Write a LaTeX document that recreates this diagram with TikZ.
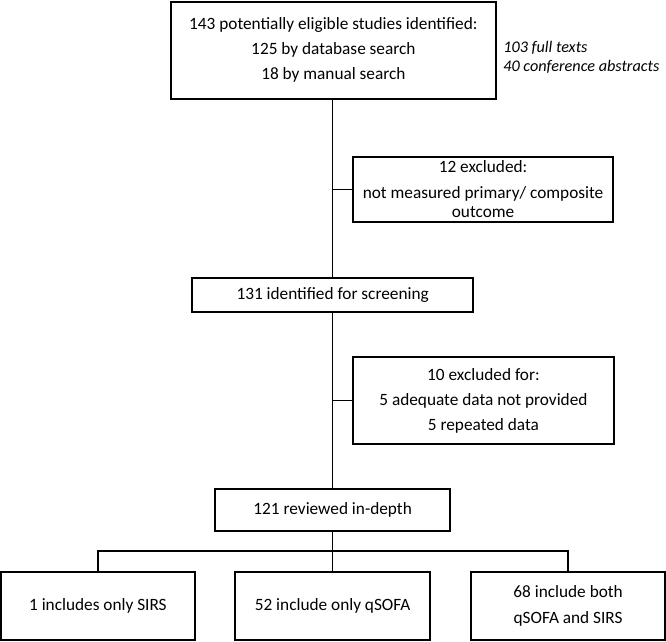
\documentclass[tikz,border=0pt]{standalone}
\usepackage{fontspec}
\setmainfont{Carlito}
\begin{document}
\begin{tikzpicture}[
    box/.style={draw, line width=1.2pt, inner sep=0pt, align=center, font=\fontsize{13}{15}\selectfont},
    link/.style={line width=1.2pt}
  ]
    \useasboundingbox (0,0) rectangle (17.62,-16.96);
    % main column
    \node[box, minimum width=8.6cm, minimum height=2.57cm] (found) at (8.82,-1.33) {143 potentially eligible studies identified:\\[3.75pt] 125 by database search\\[3.75pt] 18 by manual search};
    \node[anchor=west, inner sep=0pt, align=left, font=\fontsize{12.2}{14.3}\selectfont\itshape] (kind) at (13.31,-1.52) {103 full texts\\ 40 conference abstracts};
    \node[box, minimum width=7.43cm, minimum height=0.9cm] (screen) at (8.8,-7.81) {131 identified for screening};
    \node[box, minimum width=6.22cm, minimum height=1.11cm] (review) at (8.8,-13.49) {121 reviewed in-depth};
    % exclusions
    \node[box, minimum width=6.88cm, minimum height=1.72cm] (excl1) at (12.78,-5.01) {12 excluded:\\[4.5pt] not measured primary/ composite\\[-0.5pt] outcome};
    \node[box, minimum width=6.9cm, minimum height=2.3cm] (excl2) at (12.79,-10.6) {10 excluded for:\\[3.75pt] 5 adequate data not provided\\[3.75pt] 5 repeated data};
    % results
    \node[box, minimum width=5.13cm, minimum height=1.8cm] (sirs) at (2.59,-16.03) {1 includes only SIRS};
    \node[box, minimum width=5.16cm, minimum height=1.8cm] (qsofa) at (8.8,-16.03) {52 include only qSOFA};
    \node[box, minimum width=5.13cm, minimum height=1.8cm] (both) at (15.03,-16.03) {68 include both\\[4.5pt] qSOFA and SIRS};
    \coordinate (fork) at (8.8,-14.58);
    % lines
    \draw[link] (found.south -| screen.north) -- (screen.north);
    \draw[link] (screen) -- (review);
    \draw[link] (excl1.west) -- (excl1.west -| screen.north);
    \draw[link] (excl2.west) -- (excl2.west -| screen.north);
    \draw[link] (review) -- (qsofa);
    \draw[link] (sirs.north) |- (fork) -| (both.north);
  \end{tikzpicture}
\end{document}
